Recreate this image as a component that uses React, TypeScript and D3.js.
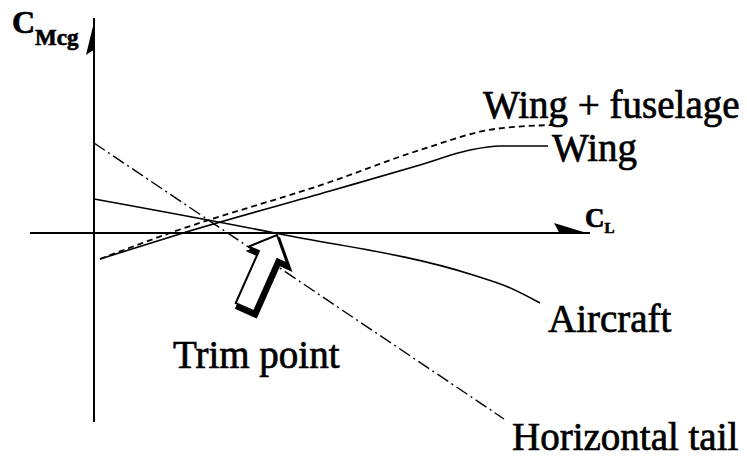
import React from 'react';
import * as d3 from 'd3';

// Curves (CL, CMcg)
const tailCL = [0, 0.82];
const tailCM = [0.45, -0.93];

const aircraftCL = [0, 0.372, 0.758, 0.828, 0.892];
const aircraftCM = [0.17, -0.005, -0.21, -0.27, -0.35];

const wingCL = [0.012, 0.178, 0.472, 0.652, 0.752, 0.812, 0.908];
const wingCM = [-0.13, 0, 0.21, 0.34, 0.415, 0.435, 0.435];

const wingFusCL = [0.012, 0.152, 0.472, 0.652, 0.802, 0.916];
const wingFusCM = [-0.13, 0, 0.255, 0.415, 0.52, 0.54];

const trimCL = 0.37;
const trimCM = 0;

const width = 747;
const height = 468;
const font = '"Times New Roman", "Liberation Serif", serif';

const App = () => {
    const x = d3.scaleLinear().domain([0, 1]).range([94, 594]);
    const y = d3.scaleLinear().domain([-1, 1]).range([433, 33]);

    const toPts = (cl: number[], cm: number[]) => cl.map((c, i) => [c, cm[i]] as [number, number]);
    const line = d3.line<[number, number]>()
        .x(d => x(d[0]))
        .y(d => y(d[1]))
        .curve(d3.curveMonotoneX);

    // axes
    const x0 = x(0);
    const y0 = y(0);
    const xAxisLeft = x(-0.128);
    const xAxisRight = x(0.992);
    const yAxisTop = y(1.075);
    const yAxisBottom = y(-0.945);

    // trim point block arrow (local coords, tip at origin pointing up)
    const tipX = x(trimCL) - 2;
    const tipY = y(trimCM) + 2;
    const arrowPts = [
        [0, 0], [21, 22], [10, 22], [10, 79], [-10, 79], [-10, 22], [-21, 22]
    ];
    const arrowPath = 'M' + arrowPts.map(p => p.join(',')).join('L') + 'Z';
    const arrowT = `translate(${tipX},${tipY}) rotate(24)`;

    const textStyle = { fontFamily: font, fill: '#000', stroke: '#000', strokeWidth: 0.7 };

    return (
        <svg width={width} height={height}
            style={{ position: 'absolute', left: 0, top: 0, background: '#fff' }}>
            {/* axes */}
            <line x1={xAxisLeft} x2={xAxisRight} y1={y0} y2={y0} stroke="#000" strokeWidth={2} />
            <line x1={x0} x2={x0} y1={yAxisTop} y2={yAxisBottom} stroke="#000" strokeWidth={2} />
            <polygon points={`${xAxisRight},${y0 + 1} ${xAxisRight - 36},${y0 - 10} ${xAxisRight - 30},${y0 + 1}`} fill="#000" />
            <polygon points={`${x0 + 1},${yAxisTop} ${x0 - 8},${yAxisTop + 37} ${x0 + 1},${yAxisTop + 31}`} fill="#000" />

            {/* curves */}
            <path d={line(toPts(tailCL, tailCM)) || ''} fill="none" stroke="#000" strokeWidth={1.4}
                strokeDasharray="13,4,2,4" />
            <path d={line(toPts(aircraftCL, aircraftCM)) || ''} fill="none" stroke="#000" strokeWidth={1.6} />
            <path d={line(toPts(wingCL, wingCM)) || ''} fill="none" stroke="#000" strokeWidth={1.6} />
            <path d={line(toPts(wingFusCL, wingFusCM)) || ''} fill="none" stroke="#000" strokeWidth={1.8}
                strokeDasharray="6,4" />

            {/* trim point arrow */}
            <g transform={arrowT}>
                <path d={arrowPath} transform="translate(3.5,3.5)" fill="#000" stroke="#000" strokeWidth={4} />
                <path d={arrowPath} fill="#fff" stroke="#000" strokeWidth={2} />
            </g>

            {/* labels */}
            <text x={12} y={33} fontSize={32} fontWeight="bold" style={textStyle}>
                C<tspan fontSize={23} dy={12}>Mcg</tspan>
            </text>
            <text x={585} y={227} fontSize={27} fontWeight="bold" style={textStyle}>
                C<tspan fontSize={15} dy={6}>L</tspan>
            </text>
            <text x={483} y={118} fontSize={39} style={textStyle}>Wing + fuselage</text>
            <text x={552} y={161} fontSize={39} style={textStyle}>Wing</text>
            <text x={548} y={332} fontSize={39} style={textStyle}>Aircraft</text>
            <text x={173} y={368} fontSize={39} style={textStyle}>Trim point</text>
            <text x={512} y={450} fontSize={39} style={textStyle}>Horizontal tail</text>
        </svg>
    );
};

export default App;
